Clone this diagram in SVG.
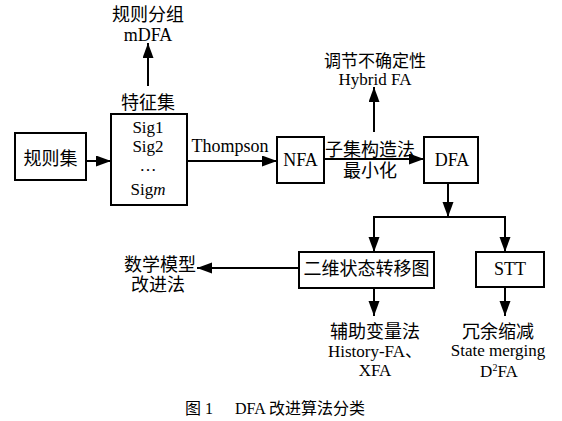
<svg xmlns="http://www.w3.org/2000/svg" width="562" height="421" viewBox="0 0 562 421">
<style>
.box{fill:#fff;stroke:#000;stroke-width:2}
.ln{fill:none;stroke:#000;stroke-width:2}
text{font-family:"Liberation Serif","Noto Sans CJK SC",serif;font-size:18px;fill:#000;text-anchor:middle}
.cap{font-size:16px;text-anchor:start}
.sm{font-size:17px}
</style>
<defs>
<marker id="ah" markerUnits="userSpaceOnUse" markerWidth="16" markerHeight="12" refX="15" refY="5.5" orient="auto">
<path d="M0,0 L15,5.5 L0,11 Z" fill="#000"/>
</marker>
</defs>
<rect width="562" height="421" fill="#fff"/>
<g id="connectors">
<line class="ln" x1="148" y1="86" x2="148" y2="43" marker-end="url(#ah)"/>
<line class="ln" x1="86" y1="161" x2="111" y2="161" marker-end="url(#ah)"/>
<line class="ln" x1="187" y1="161" x2="277" y2="161" marker-end="url(#ah)"/>
<line class="ln" x1="324" y1="159" x2="424" y2="159" marker-end="url(#ah)"/>
<line class="ln" x1="374" y1="132" x2="374" y2="87" marker-end="url(#ah)"/>
<line class="ln" x1="448" y1="183" x2="448" y2="217" marker-end="url(#ah)"/>
<polyline class="ln" points="374,252 374,217 505,217 505,252"/>
<line class="ln" x1="374" y1="217" x2="374" y2="252" marker-end="url(#ah)"/>
<line class="ln" x1="505" y1="217" x2="505" y2="252" marker-end="url(#ah)"/>
<line class="ln" x1="299" y1="268" x2="197" y2="268" marker-end="url(#ah)"/>
<line class="ln" x1="374" y1="288" x2="374" y2="316" marker-end="url(#ah)"/>
<line class="ln" x1="505" y1="287" x2="505" y2="316" marker-end="url(#ah)"/>
</g>
<g id="n-rules">
<rect class="box" x="15" y="133" width="71" height="47"/>
<text x="50.5" y="165">规则集</text>
</g>
<g id="n-sigset">
<rect class="box" x="111" y="114" width="76" height="91"/>
<text x="148" y="109">特征集</text>
<text class="sm" x="148" y="133">Sig1</text>
<text class="sm" x="148" y="152">Sig2</text>
<text class="sm" x="148" y="171">…</text>
<text class="sm" x="148" y="195">Sig<tspan font-style="italic">m</tspan></text>
</g>
<g id="n-mdfa">
<text x="148" y="21">规则分组</text>
<text x="148" y="41">mDFA</text>
</g>
<g id="e-thompson">
<text x="230" y="152">Thompson</text>
</g>
<g id="n-nfa">
<rect class="box" x="277" y="137" width="47" height="46"/>
<text x="300.5" y="166">NFA</text>
</g>
<g id="e-subset">
<text x="370" y="156">子集构造法</text>
<text x="370" y="177">最小化</text>
</g>
<g id="n-hybrid">
<text class="sm" x="375" y="67">调节不确定性</text>
<text class="sm" x="375" y="85">Hybrid FA</text>
</g>
<g id="n-dfa">
<rect class="box" x="424" y="137" width="54" height="46"/>
<text x="452" y="166">DFA</text>
</g>
<g id="n-2d">
<rect class="box" x="299" y="252" width="135" height="36"/>
<text x="366.5" y="275">二维状态转移图</text>
</g>
<g id="n-stt">
<rect class="box" x="476" y="252" width="68" height="35"/>
<text x="510" y="275">STT</text>
</g>
<g id="n-math">
<text x="160" y="271">数学模型</text>
<text x="158" y="291">改进法</text>
</g>
<g id="n-aux">
<text x="375" y="338">辅助变量法</text>
<text class="sm" x="375" y="357">History-FA、</text>
<text class="sm" x="375" y="376">XFA</text>
</g>
<g id="n-redund">
<text x="498" y="338">冗余缩减</text>
<text class="sm" x="498" y="356">State merging</text>
<text class="sm" x="499" y="377">D<tspan font-size="10" dy="-6">2</tspan><tspan dy="6">FA</tspan></text>
</g>
<g id="caption">
<text class="cap" x="185" y="414">图 1</text>
<text class="cap" x="235" y="414">DFA 改进算法分类</text>
</g>
</svg>
